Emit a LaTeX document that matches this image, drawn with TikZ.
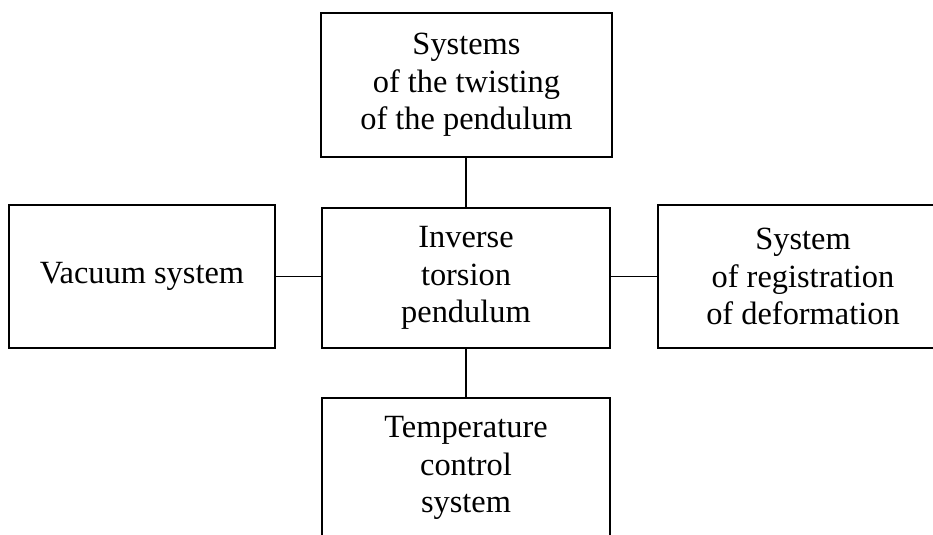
\documentclass[tikz,border=0pt]{standalone}
\usepackage{fontspec}
\setmainfont{Liberation Serif}
\usepackage{tikz}

\begin{document}
\begin{tikzpicture}[x=0.75pt, y=-0.75pt,
		block/.style={draw, thick, rectangle, align=center, inner sep=0pt,
		font=\fontsize{24.3}{28}\selectfont},
		link/.style={draw, thick}]
			\clip (0, 0) rectangle (933, 535);

			\node [block, line width=1.7pt, minimum width=218.25pt, minimum height=108pt]
			(twisting) at (466.5, 85) {Systems\\of the twisting\\of the pendulum};

			\node [block, minimum width=216pt, minimum height=105pt] (pendulum) at
			(466, 278) {Inverse\\torsion\\pendulum};

			\node [block, minimum width=199.5pt, minimum height=107.25pt] (vacuum)
			at (142, 276.5) {Vacuum system};

			\node [block, minimum width=217.5pt, minimum height=107.25pt]
			(registration) at (803, 276.5) {System\\of registration\\of deformation};

			\node [block, minimum width=216pt, minimum height=105pt] (temperature)
			at (466, 468) {Temperature\\control\\system};

			\draw [link] (twisting.south -| pendulum.north) -- (pendulum.north);

			\draw [link] (vacuum.east) -- (pendulum.west |- vacuum.east);

			\draw [link] (pendulum.east |- registration.west) -- (registration.west);

			\draw [link] (pendulum.south) -- (temperature.north);
		\end{tikzpicture}
\end{document}
